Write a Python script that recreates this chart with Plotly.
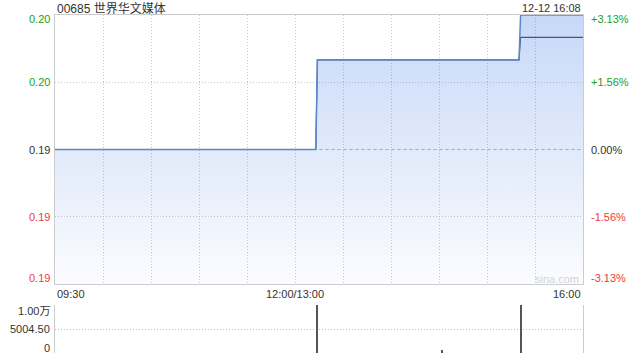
import plotly.graph_objects as go

# ---- data ----
title_text = "00685 世界华文媒体"
time_text = "12-12 16:08"
prev_close = 0.192

price_t = [0, 163, 164, 290, 291, 330]          # minutes of trading since 09:30
price_v = [0.192, 0.192, 0.196, 0.196, 0.198, 0.198]
avg_t = [0, 163, 164, 290, 291, 330]
avg_v = [0.192, 0.192, 0.196, 0.196, 0.197, 0.197]

vol_t = [164, 242, 291]
vol_v = [10009, 600, 10009]

y_ticks = [0.186, 0.189, 0.192, 0.195, 0.198]
y_labels = ["0.19", "0.19", "0.19", "0.20", "0.20"]
pct_labels = ["-3.13%", "-1.56%", "0.00%", "+1.56%", "+3.13%"]

x_grid = [0, 30, 60, 90, 120, 150, 180, 210, 240, 270, 300, 330]
x_label_pos = [0, 150, 330]
x_labels = ["09:30", "12:00/13:00", "16:00"]

vol_ticks = [0, 5004.5, 10009]
vol_labels = ["0", "5004.50", "1.00万"]

FONT = "Liberation Sans, Arial, Noto Sans CJK SC, sans-serif"
GREEN = "#22a022"
RED = "#ee3b3b"
DARK = "#333333"
GRID_DASH = "1px,2px"

fig = go.Figure()

# price area + line
fig.add_trace(go.Scatter(
    x=price_t, y=price_v, mode="lines", fill="tozeroy",
    line=dict(color="rgba(0,0,0,0)", width=0),
    fillgradient=dict(type="vertical", start=y_ticks[0], stop=y_ticks[-1],
                      colorscale=[[0, "rgba(60,120,228,0.02)"], [1, "rgba(60,120,228,0.29)"]]),
    hoverinfo="skip", showlegend=False, xaxis="x", yaxis="y"))
fig.add_trace(go.Scatter(
    x=avg_t, y=avg_v, mode="lines", line=dict(color="#44557a", width=1.1),
    showlegend=False, xaxis="x", yaxis="y"))
fig.add_trace(go.Scatter(
    x=price_t, y=price_v, mode="lines", line=dict(color="#5a87d0", width=1.5),
    showlegend=False, xaxis="x", yaxis="y"))

# volume
fig.add_trace(go.Bar(
    x=vol_t, y=vol_v, width=0.7, marker=dict(color="#555555", line=dict(width=0)),
    showlegend=False, xaxis="x2", yaxis="y2"))

fig.update_layout(
    width=640, height=360,
    margin=dict(l=55, r=57, t=0, b=0),
    paper_bgcolor="white", plot_bgcolor="rgba(0,0,0,0)",
    font=dict(family=FONT, size=11, color=DARK),
    xaxis=dict(domain=[0, 1], range=[0, 330], tickvals=x_grid, showticklabels=False,
               showgrid=True, gridcolor="#c8c8c8", griddash=GRID_DASH, gridwidth=1,
               showline=True, linecolor="#cccccc", linewidth=1, mirror=True,
               zeroline=False, ticks="", anchor="y"),
    yaxis=dict(domain=[1 - 284 / 360, 1 - 15 / 360], range=[y_ticks[0], y_ticks[-1]],
               tickvals=y_ticks, showticklabels=False,
               showgrid=True, gridcolor="#c8c8c8", griddash=GRID_DASH, gridwidth=1,
               showline=True, linecolor="#cccccc", linewidth=1, mirror=True,
               zeroline=False, ticks="", anchor="x"),
    xaxis2=dict(domain=[0, 1], range=[0, 330], matches="x", showticklabels=False,
                showgrid=False, showline=False, zeroline=False, ticks="", anchor="y2"),
    yaxis2=dict(domain=[1 - 353 / 360, 1 - 305 / 360], range=[0, vol_ticks[-1]],
                tickvals=vol_ticks, showticklabels=False,
                showgrid=True, gridcolor="#c0c0c0", griddash=GRID_DASH, gridwidth=1,
                showline=True, linecolor="#cccccc", linewidth=1, mirror=True,
                zeroline=False, ticks="", anchor="x2"),
    bargap=0,
)

# prev close dashed line
fig.add_shape(type="line", xref="x domain", yref="y", x0=0, x1=1,
              y0=prev_close, y1=prev_close, layer="below",
              line=dict(color="#b8b8b8", width=1, dash="3px,3px"))

ann = []
ann.append(dict(text=title_text, xref="paper", yref="paper", x=0, y=1 - 8 / 360,
                xanchor="left", yanchor="middle", showarrow=False,
                font=dict(size=12, color=DARK)))
ann.append(dict(text=time_text, xref="paper", yref="paper", x=1, y=1 - 8 / 360,
                xanchor="right", yanchor="middle", showarrow=False,
                font=dict(size=11, color=DARK)))

n = len(y_ticks)
for i, (v, lab, pl) in enumerate(zip(y_ticks, y_labels, pct_labels)):
    if v > prev_close:
        c = GREEN
    elif v < prev_close:
        c = RED
    else:
        c = DARK
    ys = 0
    if i == n - 1:
        ys = -4
    elif i == 0:
        ys = 6
    ann.append(dict(text=lab, xref="paper", yref="y", x=0, y=v, xanchor="right",
                    yanchor="middle", xshift=-3, yshift=ys, showarrow=False,
                    font=dict(size=11, color=c)))
    ann.append(dict(text=pl, xref="paper", yref="y", x=1, y=v, xanchor="left",
                    yanchor="middle", xshift=6, yshift=ys, showarrow=False,
                    font=dict(size=11, color=c)))

anchors = ["left", "center", "right"]
for p, lab, a in zip(x_label_pos, x_labels, anchors):
    ann.append(dict(text=lab, xref="x", yref="paper", x=p, y=1 - 294 / 360,
                    xanchor=a, yanchor="middle", showarrow=False,
                    font=dict(size=11, color=DARK)))

for i, (v, lab) in enumerate(zip(vol_ticks, vol_labels)):
    ys = 0
    if i == len(vol_ticks) - 1:
        ys = -6
    elif i == 0:
        ys = 5
    ann.append(dict(text=lab, xref="paper", yref="y2", x=0, y=v, xanchor="right",
                    yanchor="middle", xshift=-3, yshift=ys, showarrow=False,
                    font=dict(size=11, color=DARK)))

ann.append(dict(text="sina.com", xref="paper", yref="paper", x=1, y=1 - 279 / 360,
                xanchor="right", yanchor="middle", xshift=-2, showarrow=False,
                font=dict(size=11, color="#d4d4d4")))

fig.update_layout(annotations=ann)
fig.write_html("out.html")
